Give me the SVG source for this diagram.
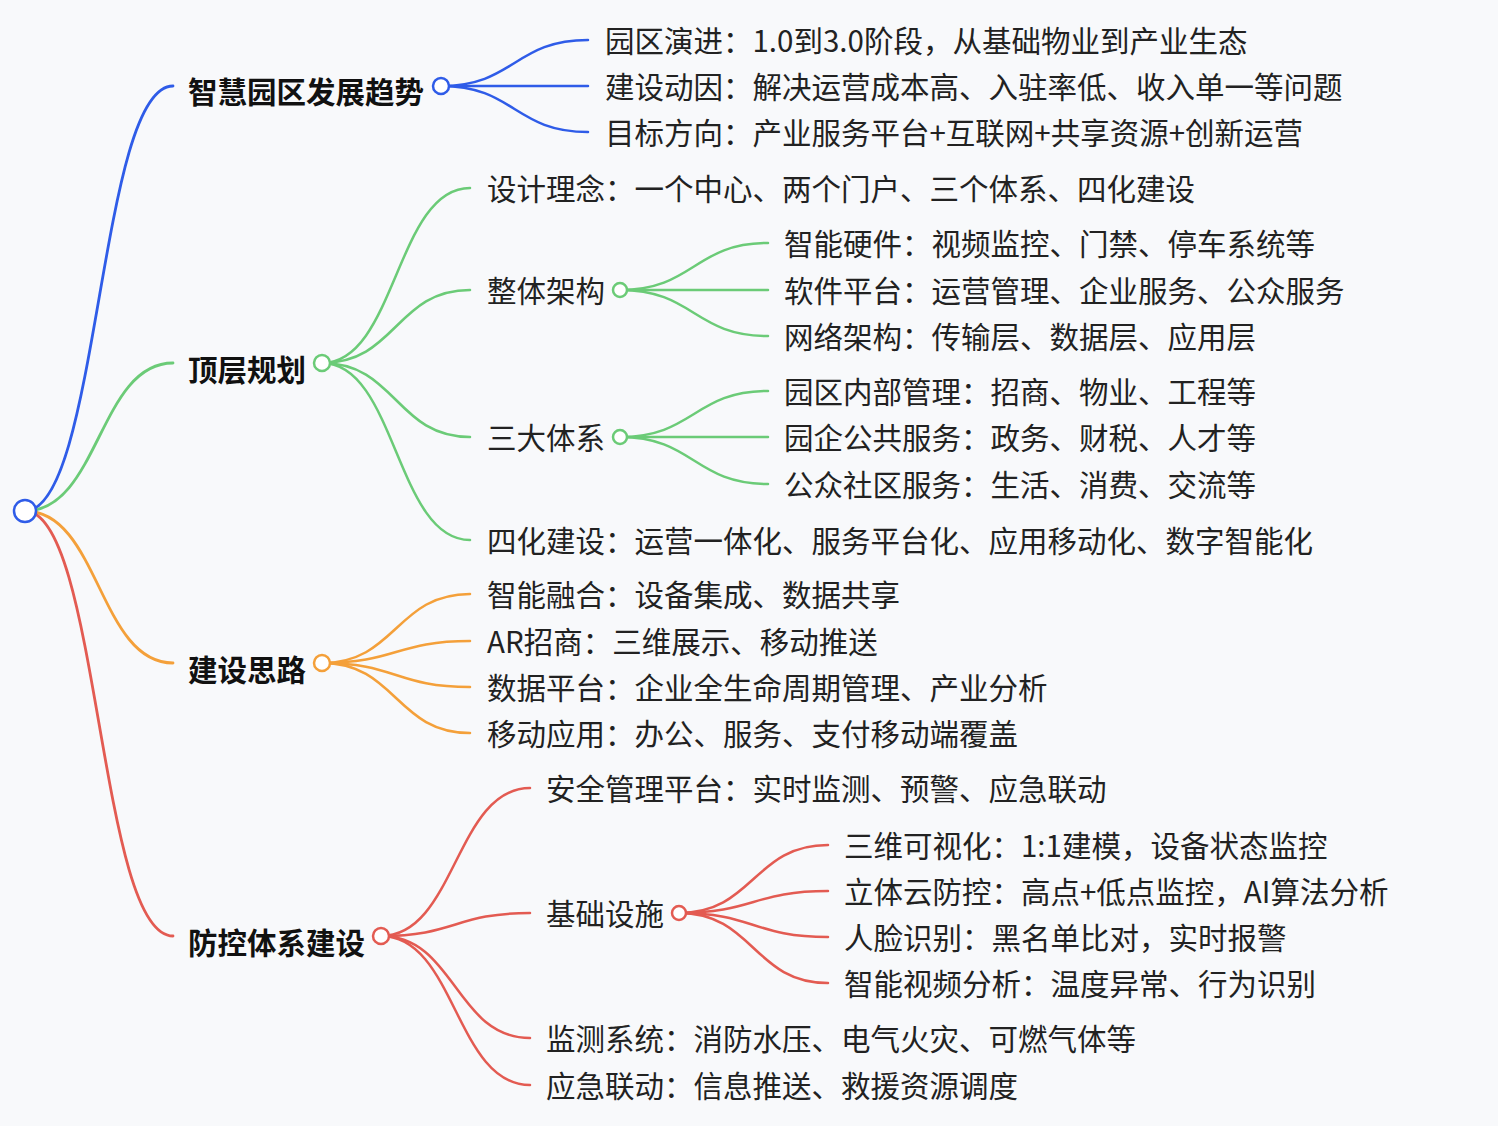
<svg xmlns="http://www.w3.org/2000/svg" width="1498" height="1126" viewBox="0 0 1498 1126">
<style>
.bg{fill:#f8f9fb}
.l{fill:none;stroke-linecap:round}
.l1{stroke-width:2.8}
.l2{stroke-width:2.5}
.b{stroke:#2f5ce8}.g{stroke:#6bcb77}.o{stroke:#f4a03a}.r{stroke:#e35b52}
.t{font-family:"Noto Sans CJK SC","Noto Sans",sans-serif;font-size:29.5px;fill:#222}
.tb{font-family:"Noto Sans CJK SC","Noto Sans",sans-serif;font-size:29.5px;font-weight:bold;fill:#111}
.c{fill:#fff;stroke-width:2.5}
</style>
<rect class="bg" x="0" y="0" width="1498" height="1126"/>
<g id="connectors">
<!-- root to level 1 -->
<path class="l l1 b" d="M25 511 C99 511 99 86 173 86"/>
<path class="l l1 g" d="M25 511 C99 511 99 363 173 363"/>
<path class="l l1 o" d="M25 511 C99 511 99 663 173 663"/>
<path class="l l1 r" d="M25 511 C99 511 99 936 173 936"/>
<!-- blue children -->
<path class="l l2 b" d="M441 86 C514.5 86 514.5 40 588 40"/>
<path class="l l2 b" d="M441 86 L588 86"/>
<path class="l l2 b" d="M441 86 C514.5 86 514.5 132 588 132"/>
<!-- green children -->
<path class="l l2 g" d="M322 363 C396 363 396 188 470 188"/>
<path class="l l2 g" d="M322 363 C396 363 396 290 470 290"/>
<path class="l l2 g" d="M322 363 C396 363 396 437 470 437"/>
<path class="l l2 g" d="M322 363 C396 363 396 540 470 540"/>
<path class="l l2 g" d="M620 290 C694 290 694 243 768 243"/>
<path class="l l2 g" d="M620 290 L768 290"/>
<path class="l l2 g" d="M620 290 C694 290 694 336 768 336"/>
<path class="l l2 g" d="M620 437 C694 437 694 391 768 391"/>
<path class="l l2 g" d="M620 437 L768 437"/>
<path class="l l2 g" d="M620 437 C694 437 694 484 768 484"/>
<!-- orange children -->
<path class="l l2 o" d="M322 663 C396 663 396 594 470 594"/>
<path class="l l2 o" d="M322 663 C396 663 396 641 470 641"/>
<path class="l l2 o" d="M322 663 C396 663 396 687 470 687"/>
<path class="l l2 o" d="M322 663 C396 663 396 733 470 733"/>
<!-- red children -->
<path class="l l2 r" d="M381 936 C455.5 936 455.5 788 530 788"/>
<path class="l l2 r" d="M381 936 C455.5 936 455.5 913 530 913"/>
<path class="l l2 r" d="M381 936 C455.5 936 455.5 1038 530 1038"/>
<path class="l l2 r" d="M381 936 C455.5 936 455.5 1085 530 1085"/>
<path class="l l2 r" d="M679 913 C753.5 913 753.5 845 828 845"/>
<path class="l l2 r" d="M679 913 C753.5 913 753.5 891 828 891"/>
<path class="l l2 r" d="M679 913 C753.5 913 753.5 937 828 937"/>
<path class="l l2 r" d="M679 913 C753.5 913 753.5 983 828 983"/>
</g>
<g id="root"><circle class="c b" cx="25" cy="511" r="11" stroke-width="3"/></g>

<g id="n-trend">
<text class="tb" x="188" y="103">智慧园区发展趋势</text>
<circle class="c b" cx="441" cy="86" r="8"/>
</g>
<g id="n-trend-1"><text class="t" x="605" y="52">园区演进：1.0到3.0阶段，从基础物业到产业生态</text></g>
<g id="n-trend-2"><text class="t" x="605" y="98">建设动因：解决运营成本高、入驻率低、收入单一等问题</text></g>
<g id="n-trend-3"><text class="t" x="605" y="144">目标方向：产业服务平台+互联网+共享资源+创新运营</text></g>

<g id="n-top">
<text class="tb" x="188" y="381">顶层规划</text>
<circle class="c g" cx="322" cy="363" r="8"/>
</g>
<g id="n-top-1"><text class="t" x="487" y="200">设计理念：一个中心、两个门户、三个体系、四化建设</text></g>
<g id="n-top-2">
<text class="t" x="487" y="302">整体架构</text>
<circle class="c g" cx="620" cy="290" r="7"/>
</g>
<g id="n-top-2-1"><text class="t" x="784" y="255">智能硬件：视频监控、门禁、停车系统等</text></g>
<g id="n-top-2-2"><text class="t" x="784" y="302">软件平台：运营管理、企业服务、公众服务</text></g>
<g id="n-top-2-3"><text class="t" x="784" y="348">网络架构：传输层、数据层、应用层</text></g>
<g id="n-top-3">
<text class="t" x="487" y="449">三大体系</text>
<circle class="c g" cx="620" cy="437" r="7"/>
</g>
<g id="n-top-3-1"><text class="t" x="784" y="403">园区内部管理：招商、物业、工程等</text></g>
<g id="n-top-3-2"><text class="t" x="784" y="449">园企公共服务：政务、财税、人才等</text></g>
<g id="n-top-3-3"><text class="t" x="784" y="496">公众社区服务：生活、消费、交流等</text></g>
<g id="n-top-4"><text class="t" x="487" y="552">四化建设：运营一体化、服务平台化、应用移动化、数字智能化</text></g>

<g id="n-idea">
<text class="tb" x="188" y="681">建设思路</text>
<circle class="c o" cx="322" cy="663" r="8"/>
</g>
<g id="n-idea-1"><text class="t" x="487" y="606">智能融合：设备集成、数据共享</text></g>
<g id="n-idea-2"><text class="t" x="487" y="653">AR招商：三维展示、移动推送</text></g>
<g id="n-idea-3"><text class="t" x="487" y="699">数据平台：企业全生命周期管理、产业分析</text></g>
<g id="n-idea-4"><text class="t" x="487" y="745">移动应用：办公、服务、支付移动端覆盖</text></g>

<g id="n-defense">
<text class="tb" x="188" y="954">防控体系建设</text>
<circle class="c r" cx="381" cy="936" r="8"/>
</g>
<g id="n-def-1"><text class="t" x="546" y="800">安全管理平台：实时监测、预警、应急联动</text></g>
<g id="n-def-2">
<text class="t" x="546" y="925">基础设施</text>
<circle class="c r" cx="679" cy="913" r="7"/>
</g>
<g id="n-def-2-1"><text class="t" x="844" y="857">三维可视化：1:1建模，设备状态监控</text></g>
<g id="n-def-2-2"><text class="t" x="844" y="903">立体云防控：高点+低点监控，AI算法分析</text></g>
<g id="n-def-2-3"><text class="t" x="844" y="949">人脸识别：黑名单比对，实时报警</text></g>
<g id="n-def-2-4"><text class="t" x="844" y="995">智能视频分析：温度异常、行为识别</text></g>
<g id="n-def-3"><text class="t" x="546" y="1050">监测系统：消防水压、电气火灾、可燃气体等</text></g>
<g id="n-def-4"><text class="t" x="546" y="1097">应急联动：信息推送、救援资源调度</text></g>
</svg>
